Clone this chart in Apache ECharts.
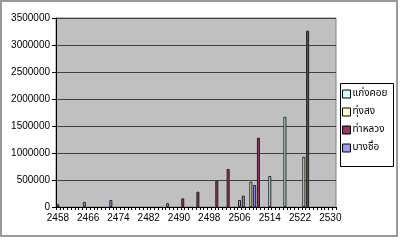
<!DOCTYPE html>
<html>
<head>
<meta charset="utf-8">
<script src="https://cdn.jsdelivr.net/npm/echarts@6/dist/echarts.min.js"></script>
<style>
html,body{margin:0;padding:0;background:#fff;}
#c{width:400px;height:240px;}
</style>
</head>
<body>
<div id="c"></div>
<script>
// Category years (x axis)
const firstYear = 2458;
const lastYear = 2531;
const years = [];
for (let y = firstYear; y <= lastYear; y++) years.push(String(y));

// Y axis
const yMin = 0, yMax = 3500000, yStep = 500000;

// Series names
const seriesNames = ['แก่งคอย', 'ทุ่งสง', 'ท่าหลวง', 'บางซื่อ'];

// Series values as [year, value]
const kaengKhoi = [[2514, 574000], [2518, 1670000]];
const thungSong = [[2509, 470000], [2523, 930000]];
const thaLuang = [[2491, 160000], [2495, 283000], [2500, 487000], [2503, 704000], [2511, 1283000], [2524, 3265000]];
const bangSue = [[2458, 50000], [2465, 95000], [2472, 130000], [2487, 70000], [2506, 130000], [2507, 210000], [2510, 407000]];

const seriesValues = [kaengKhoi, thungSong, thaLuang, bangSue];
const seriesColors = ['#ccffff', '#ffffcc', '#993366', '#9999ff'];

function toData(pairs) {
  const m = {};
  pairs.forEach(p => { m[String(p[0])] = p[1]; });
  return years.map(y => (y in m ? m[y] : '-'));
}

const chart = echarts.init(document.getElementById('c'), null, {renderer: 'canvas'});
const font = '"Liberation Sans", Arial, sans-serif';

chart.setOption({
  animation: false,
  backgroundColor: '#ffffff',
  grid: {left: 56, top: 18, width: 280, height: 189, show: true, backgroundColor: '#c0c0c0', borderColor: '#808080', borderWidth: 1},
  xAxis: {
    type: 'category',
    data: years,
    boundaryGap: true,
    axisLine: {lineStyle: {color: '#000', width: 1}},
    axisTick: {show: true, interval: 0, length: 3, lineStyle: {color: '#000'}},
    axisLabel: {interval: 7, color: '#000', fontSize: 10, fontFamily: font, margin: 6},
    splitLine: {show: false}
  },
  yAxis: {
    type: 'value',
    min: yMin, max: yMax, interval: yStep,
    axisLine: {show: true, lineStyle: {color: '#000', width: 1}},
    axisTick: {show: true, length: 4, lineStyle: {color: '#000'}},
    axisLabel: {color: '#000', fontSize: 10, fontFamily: font, margin: 6, formatter: v => String(v)},
    splitLine: {show: true, lineStyle: {color: '#404040', width: 1}}
  },
  legend: {
    orient: 'vertical',
    left: 342, top: 88, padding: 0,
    itemWidth: 8, itemHeight: 8, itemGap: 6,
    icon: 'rect',
    textStyle: {color: '#000', fontSize: 10, lineHeight: 12, fontFamily: '"Noto Sans Thai", "Noto Sans", "DejaVu Sans", sans-serif', padding: [0,0,0,-3]},
    data: seriesNames.map((n, i) => ({name: n, itemStyle: {color: seriesColors[i], borderColor: '#000', borderWidth: 1}}))
  },
  graphic: [
    {type: 'rect', shape: {x: 1, y: 1, width: 396, height: 235}, style: {fill: 'none', stroke: '#9a9a9a', lineWidth: 2}, silent: true, z: 100},
    {type: 'rect', shape: {x: 340.5, y: 83.5, width: 53, height: 83}, style: {fill: 'none', stroke: '#000', lineWidth: 1}, silent: true, z: 100}
  ],
  series: seriesValues.map((vals, i) => ({
    name: seriesNames[i],
    type: 'bar',
    data: toData(vals),
    barWidth: 3,
    barGap: '-100%',
    itemStyle: {color: seriesColors[i], borderColor: '#222', borderWidth: 1}
  }))
});
</script>
</body>
</html>
